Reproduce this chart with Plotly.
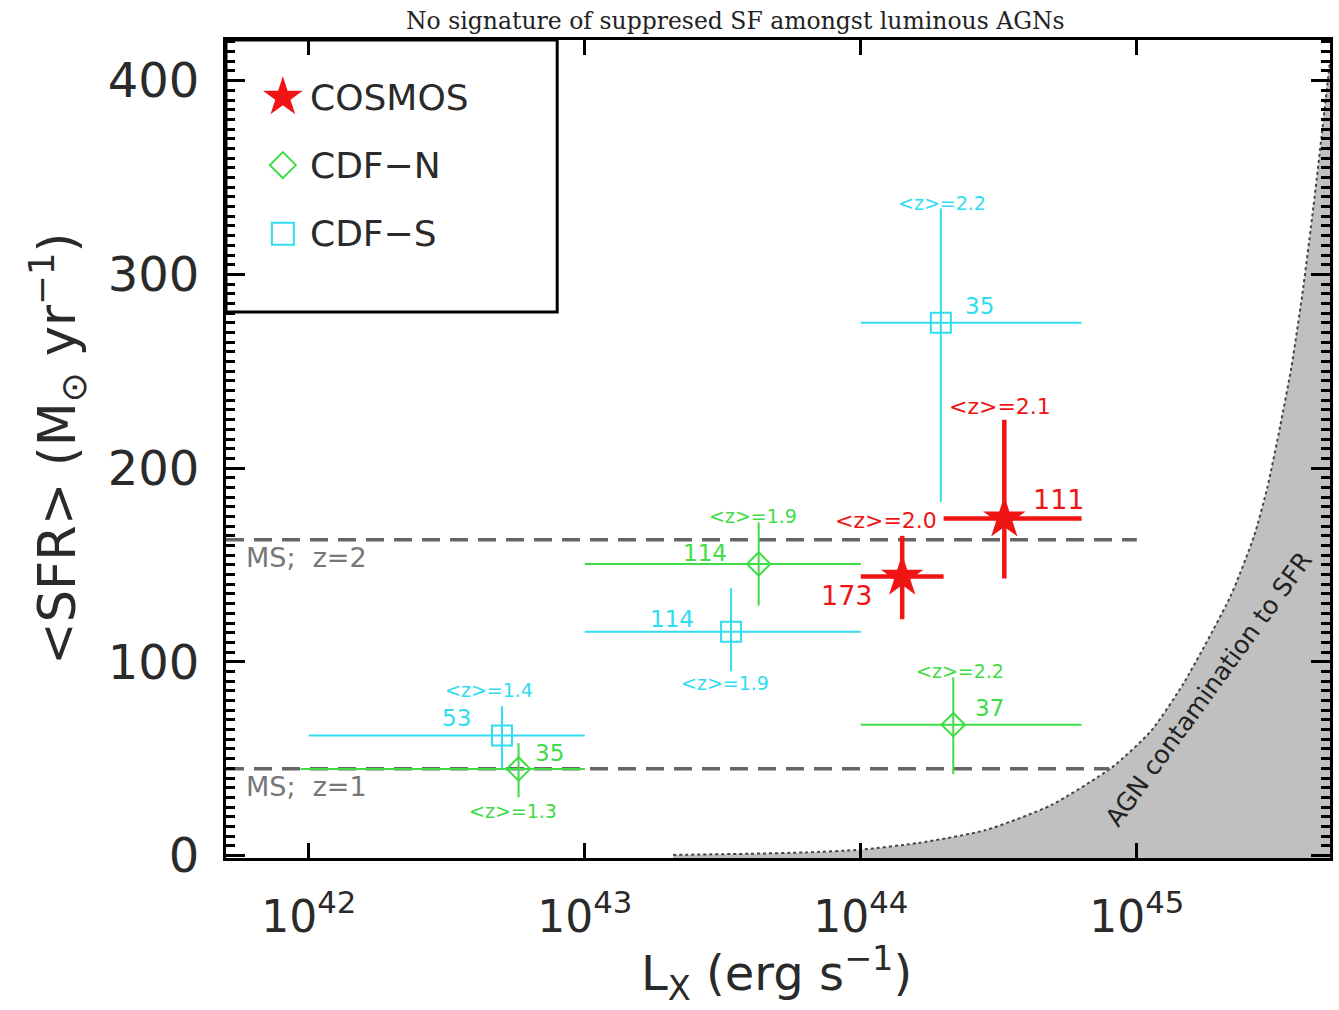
import plotly.graph_objects as go

# ---------------- data ----------------
# log10(Lx) positions, x-error ranges, <SFR> values and y-error ranges
cosmos_logLx = [44.15, 44.52]
cosmos_logLx_lo = [44.00, 44.30]
cosmos_logLx_hi = [44.30, 44.80]
cosmos_sfr = [144, 174]
cosmos_sfr_lo = [122, 143]
cosmos_sfr_hi = [165, 225]
cosmos_n = [173, 111]
cosmos_z = ["2.0", "2.1"]

cdfn_logLx = [42.76, 43.63, 44.335]
cdfn_logLx_lo = [41.97, 43.00, 44.00]
cdfn_logLx_hi = [43.00, 44.00, 44.80]
cdfn_sfr = [44.7, 150.5, 67.5]
cdfn_sfr_lo = [30, 129, 42]
cdfn_sfr_hi = [58, 172, 92]
cdfn_n = [35, 114, 37]
cdfn_z = ["1.3", "1.9", "2.2"]

cdfs_logLx = [42.70, 43.53, 44.29]
cdfs_logLx_lo = [42.00, 43.00, 44.00]
cdfs_logLx_hi = [43.00, 44.00, 44.80]
cdfs_sfr = [62, 115.5, 275]
cdfs_sfr_lo = [44, 95, 182.5]
cdfs_sfr_hi = [77, 138, 334]
cdfs_n = [53, 114, 35]
cdfs_z = ["1.4", "1.9", "2.2"]

# main-sequence levels
ms_z = [1, 2]
ms_sfr = [44.8, 163]
ms_logLx_end = [44.9, 45.0]

# AGN contamination boundary
agn_logLx = [43.32, 43.60, 43.80, 44.00, 44.21, 44.45, 44.69, 44.91, 45.05,
             45.17, 45.34, 45.425, 45.473, 45.52, 45.56, 45.60,
             45.64, 45.67, 45.70]
agn_sfr = [0.3, 0.9, 1.6, 3.0, 6.5, 13, 26, 45.5, 64,
           89, 134, 165, 190, 222, 252, 290,
           335, 372, 410]

legend_names = ["COSMOS", "CDF\u2212N", "CDF\u2212S"]

# ---------------- styling ----------------
XMIN, XMAX = 41.70, 45.70
YMIN, YMAX = -1.3, 421
RED = "#f01515"
GREEN = "#3fdc45"
CYAN = "#30dcef"
FONT = "DejaVu Sans"
TXT = "#2a2a2a"


def lin(v):
    return [10 ** a for a in v]


def xerr(c, lo, hi):
    return dict(type="data", symmetric=False,
                array=[10 ** h - 10 ** x for x, h in zip(c, hi)],
                arrayminus=[10 ** x - 10 ** l for x, l in zip(c, lo)])


def yerr(c, lo, hi):
    return dict(type="data", symmetric=False,
                array=[h - y for y, h in zip(c, hi)],
                arrayminus=[y - l for y, l in zip(c, lo)])


fig = go.Figure()

# AGN contamination shaded region
cx = lin(agn_logLx)
fig.add_trace(go.Scatter(
    x=cx + [cx[-1], cx[0]], y=agn_sfr + [YMIN, YMIN],
    mode="lines", fill="toself", fillcolor="#c0c0c0",
    line=dict(width=0, shape="spline", smoothing=0.6), hoverinfo="skip", showlegend=False))
fig.add_trace(go.Scatter(
    x=cx, y=agn_sfr, mode="lines",
    line=dict(color="#444444", width=2, dash="dot", shape="spline", smoothing=0.6),
    hoverinfo="skip", showlegend=False))

# MS lines
for s, e in zip(ms_sfr, ms_logLx_end):
    fig.add_trace(go.Scatter(
        x=[10 ** XMIN, 10 ** e], y=[s, s], mode="lines",
        line=dict(color="#666666", width=3.5, dash="18px,10px"),
        hoverinfo="skip", showlegend=False))

# data series
series = [
    (cdfs_logLx, cdfs_logLx_lo, cdfs_logLx_hi, cdfs_sfr, cdfs_sfr_lo, cdfs_sfr_hi,
     CYAN, dict(symbol="square-open", size=20, color=CYAN, line=dict(width=2, color=CYAN)), 2),
    (cdfn_logLx, cdfn_logLx_lo, cdfn_logLx_hi, cdfn_sfr, cdfn_sfr_lo, cdfn_sfr_hi,
     GREEN, dict(symbol="diamond-open", size=18, color=GREEN, line=dict(width=2, color=GREEN)), 2),
    (cosmos_logLx, cosmos_logLx_lo, cosmos_logLx_hi, cosmos_sfr, cosmos_sfr_lo, cosmos_sfr_hi,
     RED, dict(symbol="star", size=32, color=RED, line=dict(width=0)), 4.5),
]
for lx, lo, hi, s, slo, shi, col, mk, th in series:
    fig.add_trace(go.Scatter(
        x=lin(lx), y=s, mode="markers", marker=mk,
        error_x=dict(**xerr(lx, lo, hi), color=col, thickness=th, width=0),
        error_y=dict(**yerr(s, slo, shi), color=col, thickness=th, width=0),
        showlegend=False))

annotations = []


def label(x, y, text, col, size, dx, dy):
    annotations.append(dict(x=x, y=y, xref="x", yref="y", text=text, showarrow=False,
                            xanchor="center", yanchor="middle",
                            xshift=dx, yshift=dy, font=dict(family=FONT, size=size, color=col)))


# z / N labels (pixel offsets relative to each point)
red_z_off = [(-16, 56), (-4, 112)]
red_n_off = [(-55, -19), (55, 19)]
for i in range(2):
    label(cosmos_logLx[i], cosmos_sfr[i], "&lt;z&gt;=" + cosmos_z[i], RED, 22, *red_z_off[i])
    label(cosmos_logLx[i], cosmos_sfr[i], str(cosmos_n[i]), RED, 27, *red_n_off[i])

cyan_z_off = [(-13, 45), (-6, -51), (1, 120)]
cyan_n_off = [(-46, 17), (-59, 13), (39, 17)]
for i in range(3):
    label(cdfs_logLx[i], cdfs_sfr[i], "&lt;z&gt;=" + cdfs_z[i], CYAN, 19, *cyan_z_off[i])
    label(cdfs_logLx[i], cdfs_sfr[i], str(cdfs_n[i]), CYAN, 23, *cyan_n_off[i])

green_z_off = [(-6, -42), (-6, 48), (7, 54)]
green_n_off = [(31, 16), (-54, 11), (36, 17)]
for i in range(3):
    label(cdfn_logLx[i], cdfn_sfr[i], "&lt;z&gt;=" + cdfn_z[i], GREEN, 19, *green_z_off[i])
    label(cdfn_logLx[i], cdfn_sfr[i], str(cdfn_n[i]), GREEN, 23, *green_n_off[i])

# MS labels
for z, s in zip(ms_z, ms_sfr):
    annotations.append(dict(x=XMIN, y=s, xref="x", yref="y", text="MS;  z=%d" % z,
                            showarrow=False, xanchor="left", yanchor="middle", xshift=18, yshift=-18,
                            font=dict(family=FONT, size=27, color="#777777")))

# AGN contamination text
annotations.append(dict(x=45.263, y=86, xref="x", yref="y", text="AGN contamination to SFR",
                        showarrow=False, textangle=-54, xanchor="center", yanchor="middle",
                        font=dict(family=FONT, size=25, color="#222222")))

# title
annotations.append(dict(x=0.4616, y=1.0, xref="paper", yref="paper",
                        xanchor="center", yanchor="bottom", yshift=3,
                        text="No signature of suppresed SF amongst luminous AGNs", showarrow=False,
                        font=dict(family="DejaVu Serif", size=23.5, color="#222222")))

# axis titles
annotations.append(dict(x=-0.153, y=0.5, xref="paper", yref="paper",
                        xanchor="center", yanchor="middle",
                        text="&lt;SFR&gt; (M<sub>\u2299</sub> yr<sup>\u22121</sup>)",
                        textangle=-90, showarrow=False,
                        font=dict(family=FONT, size=51, color=TXT)))
annotations.append(dict(x=0.4986, y=-0.141, xref="paper", yref="paper",
                        xanchor="center", yanchor="middle",
                        text="L<sub>X</sub> (erg s<sup>\u22121</sup>)", showarrow=False,
                        font=dict(family=FONT, size=48, color=TXT)))

# manual legend (overlay axes 0..1)
leg_y = [0.930, 0.847, 0.763]
leg_markers = [dict(symbol="star", size=30, color=RED, line=dict(width=0)),
               dict(symbol="diamond-open", size=20, color=GREEN, line=dict(width=2, color=GREEN)),
               dict(symbol="square-open", size=22, color=CYAN, line=dict(width=2, color=CYAN))]
for yy, mk, name in zip(leg_y, leg_markers, legend_names):
    fig.add_trace(go.Scatter(x=[0.0515], y=[yy], mode="markers", marker=mk,
                             xaxis="x2", yaxis="y2", showlegend=False, hoverinfo="skip"))
    annotations.append(dict(x=0.074, y=yy, xref="paper", yref="paper", text=name,
                            xanchor="left", yanchor="middle", showarrow=False,
                            font=dict(family=FONT, size=36, color=TXT)))

shapes = [dict(type="rect", xref="paper", yref="paper", x0=0, x1=0.300, y0=0.6675, y1=1,
               line=dict(color="black", width=3), layer="above")]

fig.update_layout(
    width=1339, height=1010,
    margin=dict(l=226, r=6, t=40, b=152),
    paper_bgcolor="white", plot_bgcolor="white",
    showlegend=False,
    annotations=annotations, shapes=shapes,
    xaxis=dict(type="log", range=[XMIN, XMAX],
               tickvals=[1e42, 1e43, 1e44, 1e45],
               ticktext=["10<sup>42</sup>", "10<sup>43</sup>", "10<sup>44</sup>", "10<sup>45</sup>"],
               ticks="inside", ticklen=15, tickwidth=3, tickcolor="black",
               showline=True, linewidth=3, linecolor="black", mirror="ticks",
               showgrid=False, zeroline=False, ticklabelstandoff=18,
               tickfont=dict(family=FONT, size=44, color=TXT)),
    yaxis=dict(range=[YMIN, YMAX], tickvals=[0, 100, 200, 300, 400],
               ticks="inside", ticklen=19, tickwidth=3, tickcolor="black",
               minor=dict(dtick=5, tick0=0, ticks="inside", ticklen=9, tickwidth=2.5, tickcolor="black"),
               showline=True, linewidth=3, linecolor="black", mirror="ticks",
               showgrid=False, zeroline=False, ticklabelstandoff=14,
               tickfont=dict(family=FONT, size=48, color=TXT)),
    xaxis2=dict(overlaying="x", range=[0, 1], visible=False),
    yaxis2=dict(overlaying="y", range=[0, 1], visible=False),
)

fig.write_html("out.html")
